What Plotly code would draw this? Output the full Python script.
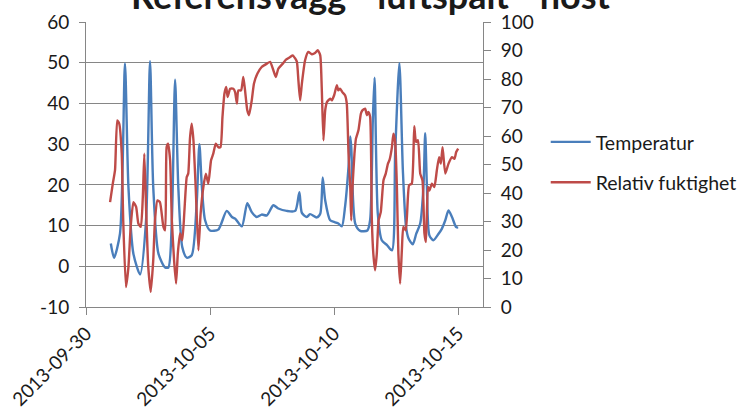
import pandas as pd
import plotly.graph_objects as go

# ---- data (time in days after 2013-09-30 00:00) ----
temp_days = [1.00, 1.13, 1.37, 1.57, 1.71, 1.91, 2.18, 2.42, 2.58, 2.71, 2.92, 3.19,
             3.32, 3.46, 3.59, 3.72, 3.88, 4.06, 4.26, 4.46, 4.57, 4.67, 4.80, 5.00,
             5.33, 5.67, 5.88, 6.01, 6.28, 6.50, 6.68, 6.88, 7.08, 7.29, 7.55, 7.75,
             8.09, 8.43, 8.60, 8.70, 8.90, 9.03, 9.30, 9.44, 9.54, 9.64, 9.84, 10.04,
             10.17, 10.31, 10.44, 10.58, 10.65, 10.69, 10.85, 11.05, 11.34, 11.45, 11.56,
             11.63, 11.76, 11.92, 12.13, 12.33, 12.46, 12.63, 12.77, 12.90, 13.00, 13.17,
             13.31, 13.47, 13.60, 13.67, 13.74, 13.84, 14.00, 14.21, 14.34, 14.48, 14.61,
             14.75, 14.92, 15.00]
temp_values = [5.6, 2.1, 8.0, 49.8, 19.5, 3.1, -2.0, 11.3, 50.4, 19.5, 3.1, -0.3,
               -0.3, 11.3, 45.8, 19.5, 4.7, 2.1, 2.7, 15.4, 30.0, 19.5, 11.3, 8.8,
               9.0, 13.6, 12.1, 11.7, 9.8, 15.5, 13.3, 12.1, 12.7, 12.5, 15.0, 14.2,
               13.6, 13.6, 18.2, 13.1, 12.1, 12.8, 12.0, 12.9, 21.8, 16.2, 11.3, 10.8,
               10.5, 9.8, 14.6, 24.4, 31.9, 29.3, 10.5, 8.7, 8.8, 11.3, 35.9,
               46.3, 12.9, 6.4, 5.2, 3.9, 27.7, 49.9, 23.6, 9.6, 6.8, 5.4,
               8.0, 10.5, 19.5, 32.7, 19.5, 7.6, 6.4, 8.0, 9.2, 11.3, 13.7,
               12.1, 9.6, 9.5]

rh_days = [0.97, 1.08, 1.17, 1.26, 1.34, 1.44, 1.50, 1.61, 1.71, 1.80, 1.91, 2.02,
           2.11, 2.21, 2.29, 2.35, 2.42, 2.51, 2.61, 2.71, 2.78, 2.88, 2.98, 3.12,
           3.19, 3.25, 3.31, 3.39, 3.46, 3.55, 3.63, 3.70, 3.79, 3.88, 3.96, 4.06,
           4.12, 4.19, 4.26, 4.33, 4.42, 4.53, 4.62, 4.73, 4.83, 4.93, 5.04, 5.13,
           5.23, 5.33, 5.42, 5.50, 5.58, 5.65, 5.71, 5.81, 5.94, 6.01, 6.08, 6.14,
           6.25, 6.34, 6.41, 6.50, 6.57, 6.68, 6.77, 6.91, 7.08, 7.29, 7.42, 7.55,
           7.65, 7.75, 7.93, 8.06, 8.23, 8.33, 8.43, 8.50, 8.56, 8.63, 8.70, 8.83,
           8.96, 9.10, 9.23, 9.34, 9.44, 9.50, 9.57, 9.64, 9.71, 9.84, 9.91, 10.00,
           10.11, 10.17, 10.24, 10.33, 10.44, 10.51, 10.58, 10.65, 10.69, 10.74, 10.82,
           10.88, 10.98, 11.08, 11.14, 11.25, 11.32, 11.38, 11.45, 11.52, 11.58, 11.65,
           11.72, 11.79, 11.88, 11.99, 12.08, 12.17, 12.23, 12.33, 12.39, 12.46, 12.53,
           12.59, 12.66, 12.73, 12.79, 12.89, 13.02, 13.13, 13.23, 13.30, 13.38, 13.47,
           13.56, 13.64, 13.70, 13.78, 13.84, 13.94, 14.04, 14.14, 14.23, 14.30, 14.37,
           14.48, 14.61, 14.75, 14.85, 14.92, 15.00]
rh_values = [36.8, 43.3, 48.0, 65.5, 64.3, 53.8, 30.4, 7.0, 14.0, 28.1, 36.8, 35.1,
             29.3, 28.1, 38.6, 53.8, 35.1, 14.0, 5.3, 16.4, 30.4, 37.4, 36.8, 28.1,
             26.9, 56.1, 57.3, 51.5, 30.4, 16.4, 8.2, 18.7, 25.8, 23.4, 32.8, 45.6,
             46.8, 59.1, 64.3, 58.5, 42.1, 19.9, 32.8, 42.1, 46.8, 43.3, 51.5, 53.8,
             57.3, 56.1, 56.1, 66.7, 74.9, 77.2, 73.7, 76.6, 76.6, 75.4, 71.4, 76.0,
             76.0, 80.7, 76.0, 69.0, 67.3, 72.5, 78.4, 81.9, 84.2, 85.4, 86.0, 83.1,
             80.7, 83.6, 85.4, 86.8, 87.7, 88.3, 87.2, 86.0, 79.5, 72.5, 78.4, 86.6,
             89.5, 88.7, 89.1, 90.1, 88.3, 77.2, 58.5, 69.0, 71.9, 73.1, 72.5, 74.3,
             77.8, 76.0, 76.6, 75.4, 74.3, 71.4, 53.8, 42.1, 30.4, 42.1, 53.8,
             59.1, 62.0, 67.9, 69.0, 69.6, 67.3, 68.4, 66.7, 30.4, 18.7, 12.9,
             18.7, 30.4, 33.3, 44.5, 46.8, 50.3, 51.5, 56.1, 60.8, 57.9, 42.1,
             18.7, 8.2, 19.9, 28.1, 26.9, 42.7, 43.3, 63.4, 57.9, 58.5, 46.8,
             44.5, 25.8, 22.8, 42.1, 40.9, 43.3, 42.1, 48.0, 52.6, 50.3, 56.1,
             46.8, 50.3, 52.6, 52.0, 54.4, 55.6]

x_ticks = ["2013-09-30", "2013-10-05", "2013-10-10", "2013-10-15"]
y_left_ticks = [-10, 0, 10, 20, 30, 40, 50, 60]
y_left_labels = ["-10", "0", "10", "20", "30", "40", "50", "60"]
title_text = "Referensvägg - luftspalt - höst"
temp_name = "Temperatur"
rh_name = "Relativ fuktighet"

base = pd.Timestamp("2013-09-30")
temp_x = [base + pd.Timedelta(days=d) for d in temp_days]
rh_x = [base + pd.Timedelta(days=d) for d in rh_days]

FONT = "Lato"
TXT = "#1a1a1a"
AX = "#868686"

fig = go.Figure()
fig.add_trace(go.Scatter(x=temp_x, y=temp_values, name=temp_name, mode="lines",
                         line=dict(color="#4A7EBB", width=2.4, shape="spline", smoothing=0.7),
                         legendgroup="a"))
fig.add_trace(go.Scatter(x=rh_x, y=rh_values, name=rh_name, mode="lines", yaxis="y2",
                         line=dict(color="#BE4B48", width=2.4, shape="spline", smoothing=0.5),
                         legendgroup="b"))

fig.update_layout(
    width=741, height=409,
    margin=dict(l=86, r=258, t=22, b=102, autoexpand=False),
    paper_bgcolor="white", plot_bgcolor="white",
    font=dict(family=FONT, size=19, color=TXT),
    showlegend=True,
    legend=dict(x=1.158, xanchor="left", y=0.508, yanchor="middle",
                font=dict(size=19.5, color=TXT), traceorder="grouped", itemwidth=40,
                tracegroupgap=12, bgcolor="rgba(0,0,0,0)"),
    xaxis=dict(type="date", range=["2013-09-30", "2013-10-16"],
               tickvals=x_ticks, ticktext=x_ticks, tickangle=-45, automargin=False,
               showgrid=False, showline=True, linecolor=AX, linewidth=1,
               ticks="outside", ticklen=7, tickcolor=AX, zeroline=False),
    yaxis=dict(range=[-10, 60], tickvals=y_left_ticks, ticktext=y_left_labels,
               showgrid=True, gridcolor=AX, gridwidth=1,
               showline=True, linecolor=AX, linewidth=1, ticks="outside", ticklen=6,
               tickcolor=AX, zeroline=False, ticklabelstandoff=6, automargin=False),
    yaxis2=dict(range=[0, 100], dtick=10, overlaying="y", side="right", showgrid=False,
                showline=True, linecolor=AX, linewidth=1, ticks="outside", ticklen=7,
                tickcolor=AX, zeroline=False, ticklabelstandoff=6, automargin=False),
    annotations=[dict(text="<b>" + title_text + "</b>", xref="paper", yref="paper",
                      x=(370.5 - 86) / 397, y=1.096, xanchor="center", yanchor="middle",
                      showarrow=False, font=dict(family=FONT, size=36, color=TXT))],
)

fig.write_html("out.html", config={"displayModeBar": False},
               post_script="document.body.style.margin='0px';document.body.style.padding='0px';")
